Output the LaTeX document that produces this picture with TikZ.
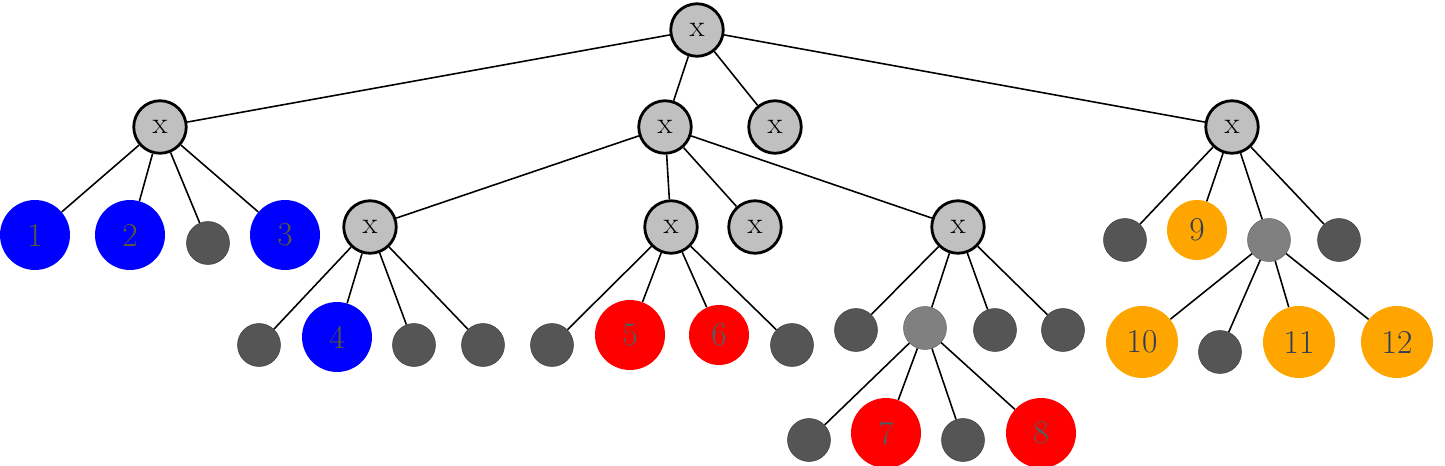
\documentclass[tikz,border=0pt]{standalone}
\usepackage{tikz}
\usetikzlibrary{positioning,backgrounds}
\definecolor{xfill}{RGB}{192,192,192}
\definecolor{leafdark}{RGB}{85,85,85}
\definecolor{leafmid}{RGB}{128,128,128}
\definecolor{numblue}{RGB}{92,92,48}
\definecolor{numred}{RGB}{70,100,100}
\definecolor{numorange}{RGB}{48,60,90}
\definecolor{orng}{RGB}{255,165,0}
\tikzset{
  xnode/.style={circle,draw=black,line width=1.6pt,fill=xfill,minimum size=1.05cm,
    inner sep=0pt,font=\fontsize{17.5}{20}\selectfont},
  dleaf/.style={circle,draw=black!75,line width=0.3pt,fill=leafdark,minimum size=0.86cm,inner sep=0pt},
  mleaf/.style={circle,draw=black!60,line width=0.3pt,fill=leafmid,minimum size=0.86cm,inner sep=0pt},
  bleaf/.style={circle,fill=blue,minimum size=1.4cm,inner sep=0pt,text=numblue,
    font=\fontsize{19}{22}\selectfont},
  rleaf/.style={circle,fill=red,minimum size=1.4cm,inner sep=0pt,text=numred,
    font=\fontsize{19}{22}\selectfont},
  oleaf/.style={circle,fill=orng,minimum size=1.44cm,inner sep=0pt,text=numorange,
    font=\fontsize{19}{22}\selectfont},
  tedge/.style={line width=0.9pt,black},
}
\begin{document}
\begin{tikzpicture}[x=0.02cm,y=-0.02cm]
  \useasboundingbox (0,0) rectangle (1445,466);
  % top levels
  \node[xnode] (root) at (697,30) {x};
  \node[xnode] (a) at (160,127) {x};
  \node[xnode] (b) at (665,127) {x};
  \node[xnode] (c) at (775,127) {x};
  \node[xnode] (d) at (1232,127) {x};
  % children of a
  \node[bleaf] (n1) at (35,235) {1};
  \node[bleaf] (n2) at (130,235) {2};
  \node[dleaf] (a3) at (208,243) {};
  \node[bleaf] (n3) at (285,235) {3};
  % children of b
  \node[xnode] (e) at (370,227) {x};
  \node[xnode] (f) at (671,227) {x};
  \node[xnode] (g) at (755,227) {x};
  \node[xnode] (h) at (958,227) {x};
  % children of e
  \node[dleaf] (e1) at (259,345) {};
  \node[bleaf] (n4) at (337,337) {4};
  \node[dleaf] (e3) at (414,345) {};
  \node[dleaf] (e4) at (483,345) {};
  % children of f
  \node[dleaf] (f1) at (552,345) {};
  \node[rleaf] (n5) at (630,335) {5};
  \node[rleaf,minimum size=1.2cm] (n6) at (719,335) {6};
  \node[dleaf] (f4) at (792,345) {};
  % children of h
  \node[dleaf] (h1) at (856,330) {};
  \node[mleaf] (h2) at (925,328) {};
  \node[dleaf] (h3) at (995,330) {};
  \node[dleaf] (h4) at (1063,330) {};
  \node[dleaf] (k1) at (809,440) {};
  \node[rleaf] (n7) at (886,433) {7};
  \node[dleaf] (k3) at (963,440) {};
  \node[rleaf] (n8) at (1041,433) {8};
  % children of d
  \node[dleaf] (d1) at (1125,240) {};
  \node[oleaf,minimum size=1.2cm] (n9) at (1197,230) {9};
  \node[mleaf] (d3) at (1269,240) {};
  \node[dleaf] (d4) at (1339,240) {};
  \node[oleaf] (n10) at (1142,342) {10};
  \node[dleaf] (m2) at (1220,352) {};
  \node[oleaf] (n11) at (1299,342) {11};
  \node[oleaf] (n12) at (1397,342) {12};
  % edges
  \foreach \u/\v in {root/a,root/b,root/c,root/d,a/n1,a/n2,a/a3,a/n3,
      b/e,b/f,b/g,b/h,e/e1,e/n4,e/e3,e/e4,f/f1,f/n5,f/n6,f/f4,
      h/h1,h/h2,h/h3,h/h4,h2/k1,h2/n7,h2/k3,h2/n8,
      d/d1,d/n9,d/d3,d/d4,d3/n10,d3/m2,d3/n11,d3/n12}
    \draw[tedge] (\u) -- (\v);
\end{tikzpicture}
\end{document}
